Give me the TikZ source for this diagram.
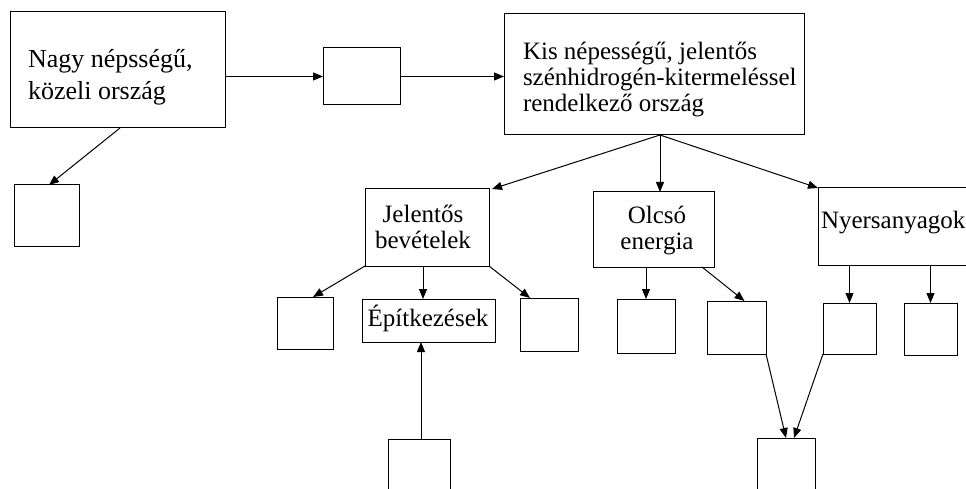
\documentclass[tikz,border=0pt]{standalone}
\usepackage{fontspec}
\setmainfont{Liberation Serif}
\usetikzlibrary{arrows.meta}
\begin{document}
\begin{tikzpicture}[x=1pt,y=-1pt,
  box/.style={draw,line width=1pt,inner sep=0pt,outer sep=0pt},
  txt/.style={inner sep=0pt,outer sep=0pt,font=\fontsize{25}{26}\selectfont},
  conn/.style={line width=1pt,-{Triangle[length=10pt,width=8pt]}}]
\useasboundingbox (0,0) rectangle (966,489);
\fill[white] (0,0) rectangle (966,489);
\clip (0,0) rectangle (966,489);
% boxes
\node[box,minimum width=215,minimum height=116] (A) at (117.5,70) {};
\node[box,minimum width=77,minimum height=57] (B) at (361.5,76.5) {};
\node[box,minimum width=300,minimum height=121] (C) at (654,74.5) {};
\node[box,minimum width=65,minimum height=61] (D) at (46.5,215.5) {};
\node[box,minimum width=124,minimum height=77] (J) at (427,227.5) {};
\node[box,minimum width=121,minimum height=75] (O) at (653.5,229.5) {};
\node[box,minimum width=182,minimum height=77] (N) at (909,226.5) {};
\node[box,minimum width=56,minimum height=52] (J1) at (305,323) {};
\node[box,minimum width=133,minimum height=43] (E) at (428.5,320.5) {};
\node[box,minimum width=58,minimum height=53] (J3) at (549,324.5) {};
\node[box,minimum width=62,minimum height=81] (EB) at (419,479.5) {};
\node[box,minimum width=58,minimum height=54] (O1) at (646,326) {};
\node[box,minimum width=59,minimum height=53] (O2) at (736.5,327.5) {};
\node[box,minimum width=53,minimum height=51] (N1) at (849.5,328.5) {};
\node[box,minimum width=53,minimum height=52] (N2) at (930.5,329) {};
\node[box,minimum width=58,minimum height=82] (OB) at (786,479) {};
% texts (base anchor = baseline of the last line)
\node[txt,anchor=base west,align=left,font=\fontsize{26}{32}\selectfont] (tA) at (28,100) {Nagy népsségű,\\közeli ország};
\node[txt,anchor=base west,align=left] (tC) at (523,112) {Kis népességű, jelentős\\szénhidrogén-kitermeléssel\\rendelkező ország};
\node[txt,anchor=base,align=center] (tJ) at (423,248) {Jelentős\\bevételek};
\node[txt,anchor=base,align=center] (tO) at (657,249) {Olcsó\\energia};
\node[txt,anchor=base west] (tN) at (821,228) {Nyersanyagok};
\node[txt,anchor=base] (tE) at (428,326) {Építkezések};
% connectors
\draw[conn] (A.east |- B.west) -- (B.west);
\draw[conn] (B.east) -- (B.east -| C.west);
\draw[conn] ([xshift=2.5pt]A.south) -- ([xshift=2.5pt]D.north);
\draw[conn] ([xshift=6pt]C.south) -- ([xshift=3pt]J.north east);
\draw[conn] ([xshift=6pt]C.south) -- ([xshift=6pt]C.south |- O.north);
\draw[conn] ([xshift=6pt]C.south) -- (N.north west);
\draw[conn] (J.south west) -- ([xshift=8pt]J1.north);
\draw[conn] ([xshift=-4pt]J.south) -- ([xshift=-4pt]J.south |- E.north);
\draw[conn] (J.south east) -- ([xshift=-19pt]J3.north);
\draw[conn] ([xshift=2pt]EB.north) -- ([xshift=2pt]EB.north |- E.south);
\draw[conn] (O1.north |- O.south) -- (O1.north);
\draw[conn] ([xshift=-12pt]O.south east) -- ([xshift=8pt]O2.north);
\draw[conn] (N1.north |- N.south) -- (N1.north);
\draw[conn] (N2.north |- N.south) -- (N2.north);
\draw[conn] (O2.south east) -- (OB.north);
\draw[conn] (N1.south west) -- ([xshift=8pt]OB.north);
\end{tikzpicture}
\end{document}
